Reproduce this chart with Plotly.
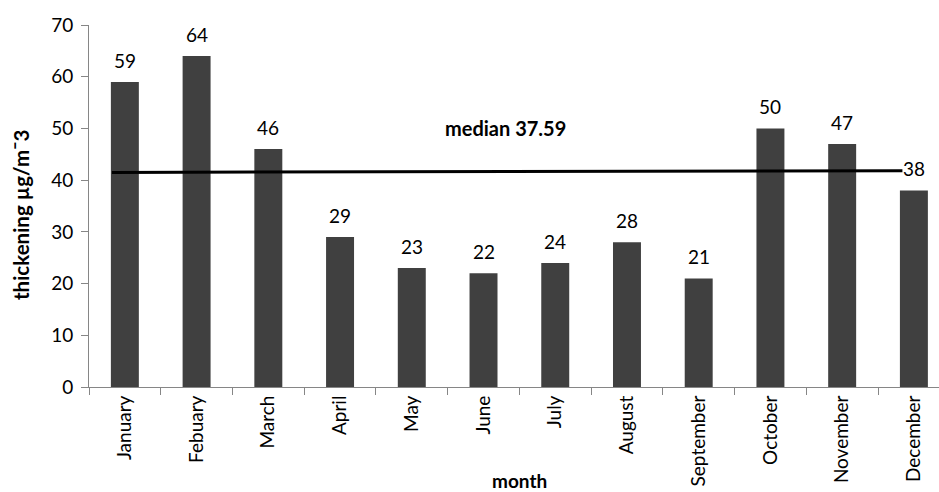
import plotly.graph_objects as go

months = ["January", "Febuary", "March", "April", "May", "June", "July",
          "August", "September", "October", "November", "December"]
values = [59, 64, 46, 29, 23, 22, 24, 28, 21, 50, 47, 38]
median_label = "median 37.59"
median_line_y = [41.5, 41.8]
y_ticks = [0, 10, 20, 30, 40, 50, 60, 70]

FONT = "Lato, 'Open Sans', sans-serif"
fig = go.Figure()
fig.add_trace(go.Bar(x=months, y=values, marker=dict(color="#404040", line=dict(width=0)),
                     width=0.39, showlegend=False, hoverinfo="x+y"))

for m, v in zip(months, values):
    fig.add_annotation(x=m, y=v, text=str(v), showarrow=False, xref="x", yref="y",
                       yanchor="bottom", yshift=8, font=dict(family=FONT, size=19, color="#000"))

fig.add_shape(type="line", xref="x", yref="y", x0=-0.18, x1=10.84,
              y0=median_line_y[0], y1=median_line_y[1],
              line=dict(color="#000", width=3))
fig.add_annotation(x=5.3, y=50, xref="x", yref="y", text="<b>" + median_label + "</b>",
                   showarrow=False, font=dict(family=FONT, size=20, color="#000"))

fig.add_annotation(x=0, y=0.475, xref="paper", yref="paper", text="<b>thickening µg/m¯3</b>",
                   textangle=-90, showarrow=False, xshift=-68, xanchor="center",
                   yanchor="middle", font=dict(family=FONT, size=20.5, color="#000"))
fig.add_annotation(x=0.507, y=0, xref="paper", yref="paper", text="<b>month</b>",
                   showarrow=False, yshift=-93, xanchor="center", yanchor="middle",
                   font=dict(family=FONT, size=19, color="#000"))

fig.update_layout(
    width=939, height=492, margin=dict(l=89, r=0, t=25, b=105),
    plot_bgcolor="white", paper_bgcolor="white",
    font=dict(family=FONT, size=19, color="#000"),
    xaxis=dict(type="category", range=[-0.5, 11.35], tickangle=-90, ticks="outside",
               tickson="boundaries", ticklen=7, tickcolor="#868686", showline=True,
               linecolor="#868686", linewidth=1, showgrid=False, zeroline=False,
               tickfont=dict(family=FONT, size=19, color="#000")),
    yaxis=dict(range=[0, 70], tickvals=y_ticks, ticks="outside", ticklen=7,
               tickcolor="#868686", showline=True, linecolor="#868686", linewidth=1,
               showgrid=False, zeroline=False, ticklabelstandoff=4,
               tickfont=dict(family=FONT, size=19, color="#000")),
)
fig.write_html("out.html")
